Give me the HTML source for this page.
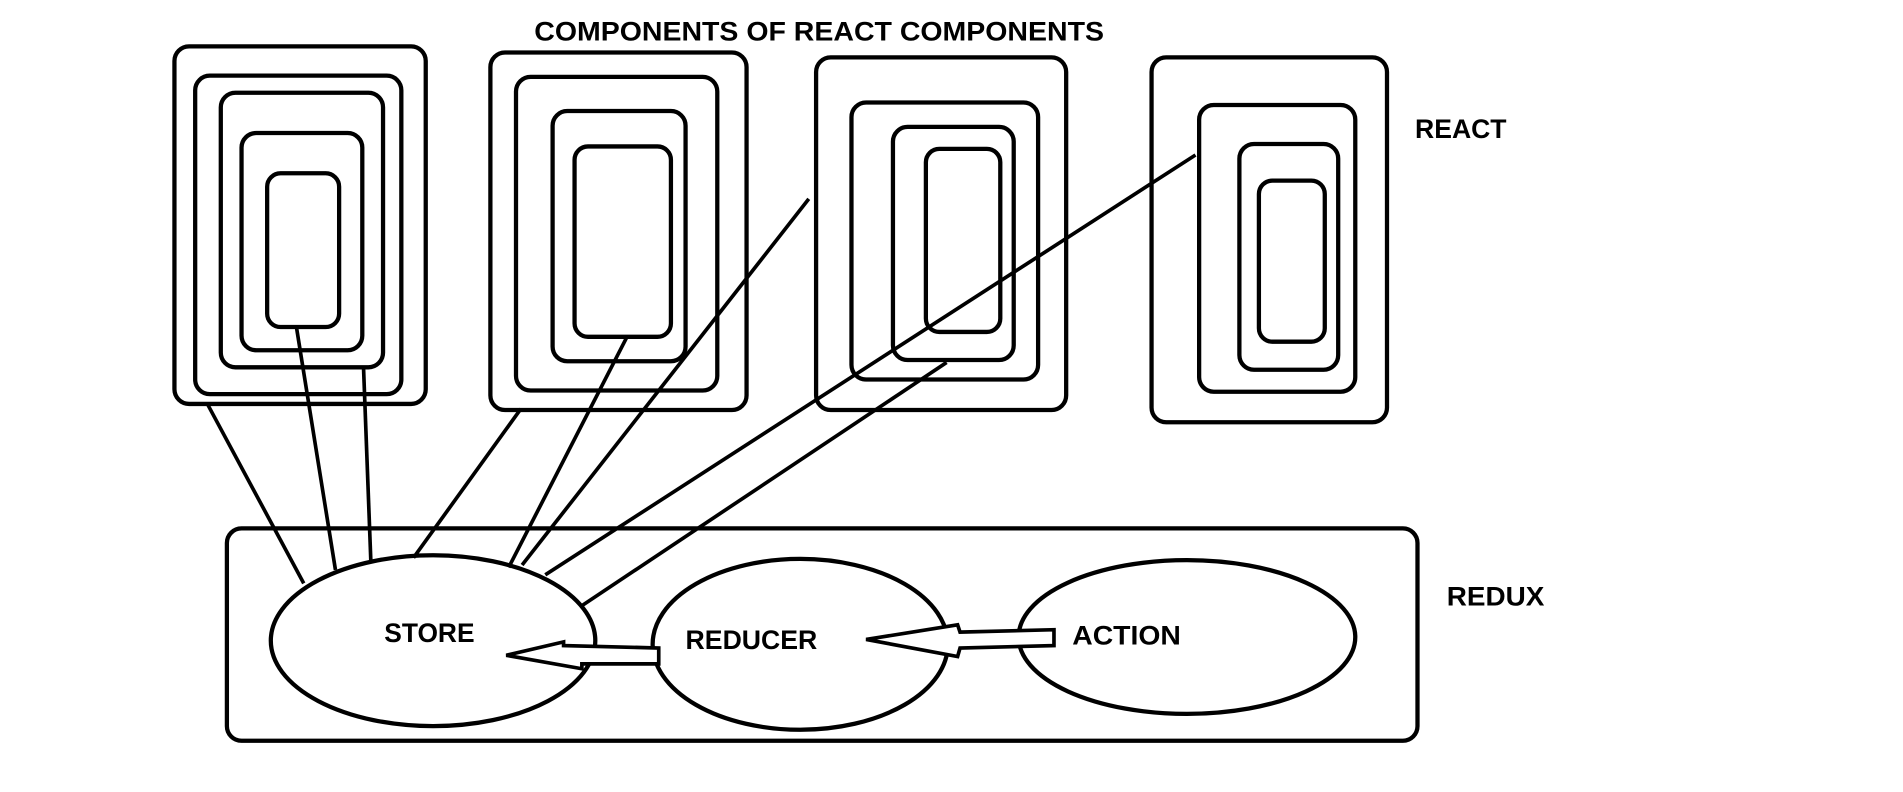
<!DOCTYPE html>
<html><head><meta charset="utf-8"><style>
html,body{margin:0;padding:0;background:#fff;width:1903px;height:792px;overflow:hidden}
svg{display:block}
text{font-family:"Liberation Sans",sans-serif;font-weight:bold;fill:#000}
</style></head><body>
<svg width="1903" height="792" viewBox="0 0 1560 649" preserveAspectRatio="none">
<g fill="none" stroke="#000" stroke-width="3.5">
<rect x="143" y="38" width="206" height="293" rx="12"/>
<rect x="160" y="62" width="169" height="261" rx="12"/>
<rect x="181" y="76" width="133" height="225" rx="12"/>
<rect x="198" y="109" width="99" height="178" rx="12"/>
<rect x="219" y="142" width="59" height="126" rx="11"/>
<rect x="402" y="43" width="210" height="293" rx="12"/>
<rect x="423" y="63" width="165" height="257" rx="12"/>
<rect x="453" y="91" width="109" height="205" rx="12"/>
<rect x="471" y="120" width="79" height="156" rx="11"/>
<rect x="669" y="47" width="205" height="289" rx="12"/>
<rect x="698" y="84" width="153" height="227" rx="12"/>
<rect x="732" y="104" width="99" height="191" rx="12"/>
<rect x="759" y="122" width="61" height="150" rx="11"/>
<rect x="944" y="47" width="193" height="299" rx="12"/>
<rect x="983" y="86" width="128" height="235" rx="12"/>
<rect x="1016" y="118" width="81" height="185" rx="12"/>
<rect x="1032" y="148" width="54" height="132" rx="11"/>
<rect x="186" y="433" width="976" height="174" rx="12"/>
<ellipse cx="355" cy="525" rx="133" ry="70"/>
<ellipse cx="656" cy="528" rx="121" ry="70"/>
<ellipse cx="973" cy="522" rx="138" ry="63"/>
</g>
<g stroke="#000" stroke-width="3" fill="none">
<line x1="170" y1="331" x2="249" y2="478"/>
<line x1="243" y1="268" x2="275" y2="467"/>
<line x1="298" y1="301" x2="304" y2="460"/>
<line x1="427" y1="335" x2="339" y2="457"/>
<line x1="514" y1="276" x2="417" y2="465"/>
<line x1="663" y1="163" x2="428" y2="463"/>
<line x1="980" y1="127" x2="447" y2="471"/>
<line x1="776" y1="297" x2="476" y2="497"/>
</g>
<g stroke="#000" stroke-width="3" fill="#fff">
<polygon points="415,537 462,526 462,529 540,531 540,544 477,544 477,548"/>
<polygon points="710,524 785,512 787,518 864,516 864,529 787,531 785,538"/>
</g>
<text x="438" y="33" font-size="22" textLength="467" lengthAdjust="spacingAndGlyphs">COMPONENTS OF REACT COMPONENTS</text>
<text x="1160" y="113" font-size="22" textLength="75" lengthAdjust="spacingAndGlyphs">REACT</text>
<text x="1186" y="496" font-size="22" textLength="80" lengthAdjust="spacingAndGlyphs">REDUX</text>
<text x="315" y="526" font-size="22" textLength="74" lengthAdjust="spacingAndGlyphs">STORE</text>
<text x="562" y="532" font-size="22" textLength="108" lengthAdjust="spacingAndGlyphs">REDUCER</text>
<text x="879" y="528" font-size="22" textLength="89" lengthAdjust="spacingAndGlyphs">ACTION</text>
</svg>
</body></html>
